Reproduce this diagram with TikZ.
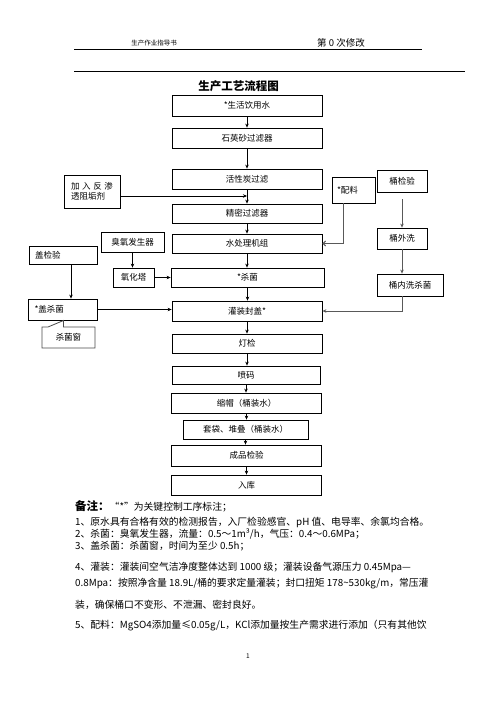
\documentclass[tikz,border=0pt]{standalone}
\usepackage{fontspec}
\setmainfont{Noto Sans CJK SC}
\usetikzlibrary{arrows.meta}

\begin{document}
\begin{tikzpicture}[
    x=1pt, y=-1pt,
    proc/.style={rectangle, draw=black, line width=0.8pt, minimum width=150pt, minimum height=20pt, inner sep=1pt, font=\fontsize{8.5}{10}\selectfont},
    side/.style={proc, minimum width=50pt},
    arrow/.style={-{Stealth[length=4pt,width=3.5pt]}, line width=0.8pt},
    grayarrow/.style={arrow, draw=gray!70!black},
    feed/.style={-{Straight Barb[length=2.5pt,width=5pt]}, line width=1pt, draw=gray!70!black},
    note/.style={anchor=west, inner sep=0pt, font=\fontsize{9.8}{12}\selectfont}
]
    \useasboundingbox (0,0) rectangle (496,702);
    \fill[white] (0,0) rectangle (496,702);

    % Header
    \node[font=\fontsize{6.5}{8}\selectfont] (doc) at (154,43) {生产作业指导书};
    \node[font=\fontsize{9.5}{11}\selectfont] (rev) at (341,43) {第 0 次修改};
    \draw[line width=1pt] (74,49.5) -- (422,49.5);
    \draw[line width=1pt] (74,71) -- (465,71);

    % Title
    \node[font=\bfseries\fontsize{11.5}{13}\selectfont] (title) at (238.5,86) {生产工艺流程图};

    % Main process
    \node[proc, minimum height=21pt] (water) at (247,105.5) {*生活饮用水};
    \node[proc] (quartz) at (247,138) {石英砂过滤器};
    \node[proc] (carbon) at (247,179) {活性炭过滤};
    \node[proc, minimum height=19pt] (fine) at (247,213.5) {精密过滤器};
    \node[proc, minimum height=19pt] (unit) at (247,243.5) {水处理机组};
    \node[proc, minimum width=153pt, minimum height=19pt] (steril) at (247.5,277.5) {*杀菌};
    \node[proc] (fill) at (247,311) {灌装封盖*};
    \node[proc, minimum height=19pt] (light) at (247,343.5) {灯检};
    \node[proc, minimum width=148pt, minimum height=18pt] (code) at (246,375) {喷码};
    \node[proc] (shrink) at (246.5,403) {缩帽（桶装水）};
    \node[proc, minimum width=125pt, minimum height=19pt] (bag) at (245.5,429.5) {套袋、堆叠（桶装水）};
    \node[proc, minimum height=21pt] (check) at (246.5,455.5) {成品检验};
    \node[proc] (store) at (246.5,485) {入库};

    \foreach \a/\b in {water/quartz, quartz/carbon, carbon/fine, fine/unit, unit/steril, steril/fill,
                       fill/light, light/code, code/shrink, shrink/bag, bag/check, check/store}
        \draw[arrow] (\a.south) -- (\a.south |- \b.north);

    % Left side
    \node[side, minimum width=56pt, minimum height=33pt, text width=42pt, align=left] (additive) at (92,191.5)
        {\makebox[42pt][s]{加\hfill 入\hfill 反\hfill 渗}\\透阻垢剂};
    \coordinate (join) at (247,196);
    \draw[arrow] (additive.east |- join) -- (join);

    \node[side, minimum width=63pt] (ozone) at (132.5,242) {臭氧发生器};
    \node[side, minimum width=41pt, minimum height=19pt] (tower) at (133.5,277.5) {氧化塔};
    \draw[arrow] (ozone.south) -- (ozone.south |- tower.north);
    \draw[arrow] (tower.east) -- (tower.east -| steril.west);

    \node[side, minimum width=68pt, minimum height=18pt, text width=56pt, align=left] (capchk) at (63,255) {盖检验};
    \node[side, minimum width=69pt, minimum height=21pt, text width=56pt, align=left] (capster) at (62.5,309.5) {*盖杀菌};
    \draw[arrow] ([xshift=8pt]capchk.south) -- ([xshift=8pt]capchk.south |- capster.north);
    \draw[arrow] (capster.east) -- (capster.east -| fill.west);

    % Callout
    \node[font=\fontsize{8.5}{10}\selectfont] (window) at (68.5,337.5) {杀菌窗};
    \draw[line width=0.8pt, draw=gray!60!black] (42,327) -- (48,327) -- (63.5,320.5) -- (63.5,327)
        -- (95,327) -- (95,348) -- (42,348) -- cycle;

    % Right side
    \node[side, minimum width=43pt, minimum height=26pt, text width=33pt, align=left] (mix) at (353.5,190) {*配料};
    \draw[feed] ([xshift=-10.5pt]mix.south) |- (unit.east);

    \node[side, minimum height=22pt] (bucketchk) at (402,181) {桶检验};
    \node[side, minimum height=21pt] (outwash) at (402,238.5) {桶外洗};
    \node[side, minimum width=66pt, minimum height=22pt] (inwash) at (410,285) {桶内洗杀菌};
    \draw[grayarrow] ([yshift=-7pt]bucketchk.south) -- (outwash.north);
    \draw[grayarrow] (outwash.south) -- (outwash.south |- inwash.north);
    \draw[grayarrow] (outwash.south |- inwash.south) |- (fill.east);

    % Notes
    \node[note] (remark) at (75,506) {{\bfseries\fontsize{11.5}{13}\selectfont 备注：}“*”为关键控制工序标注；};
    \node[note] (n1) at (75,522) {1、原水具有合格有效的检测报告，入厂检验感官、pH 值、电导率、余氯均合格。};
    \node[note] (n2) at (75,534) {2、杀菌：臭氧发生器，流量：0.5～1m³/h，气压：0.4～0.6MPa；};
    \node[note] (n3) at (75,546) {3、盖杀菌：杀菌窗，时间为至少 0.5h；};
    \node[note] (n4) at (75,567) {4、灌装：灌装间空气洁净度整体达到 1000 级；灌装设备气源压力 0.45Mpa—};
    \node[note] (n4b) at (75,584) {0.8Mpa：按照净含量 18.9L/桶的要求定量灌装；封口扭矩 178\string~530kg/m，常压灌};
    \node[note] (n4c) at (75,605) {装，确保桶口不变形、不泄漏、密封良好。};
    \node[note] (n5) at (75,626) {5、配料：MgSO4添加量≤0.05g/L，KCl添加量按生产需求进行添加（只有其他饮};

    % Page number
    \node[font=\fontsize{6.5}{8}\selectfont] (page) at (248,656) {1};
\end{tikzpicture}
\end{document}
